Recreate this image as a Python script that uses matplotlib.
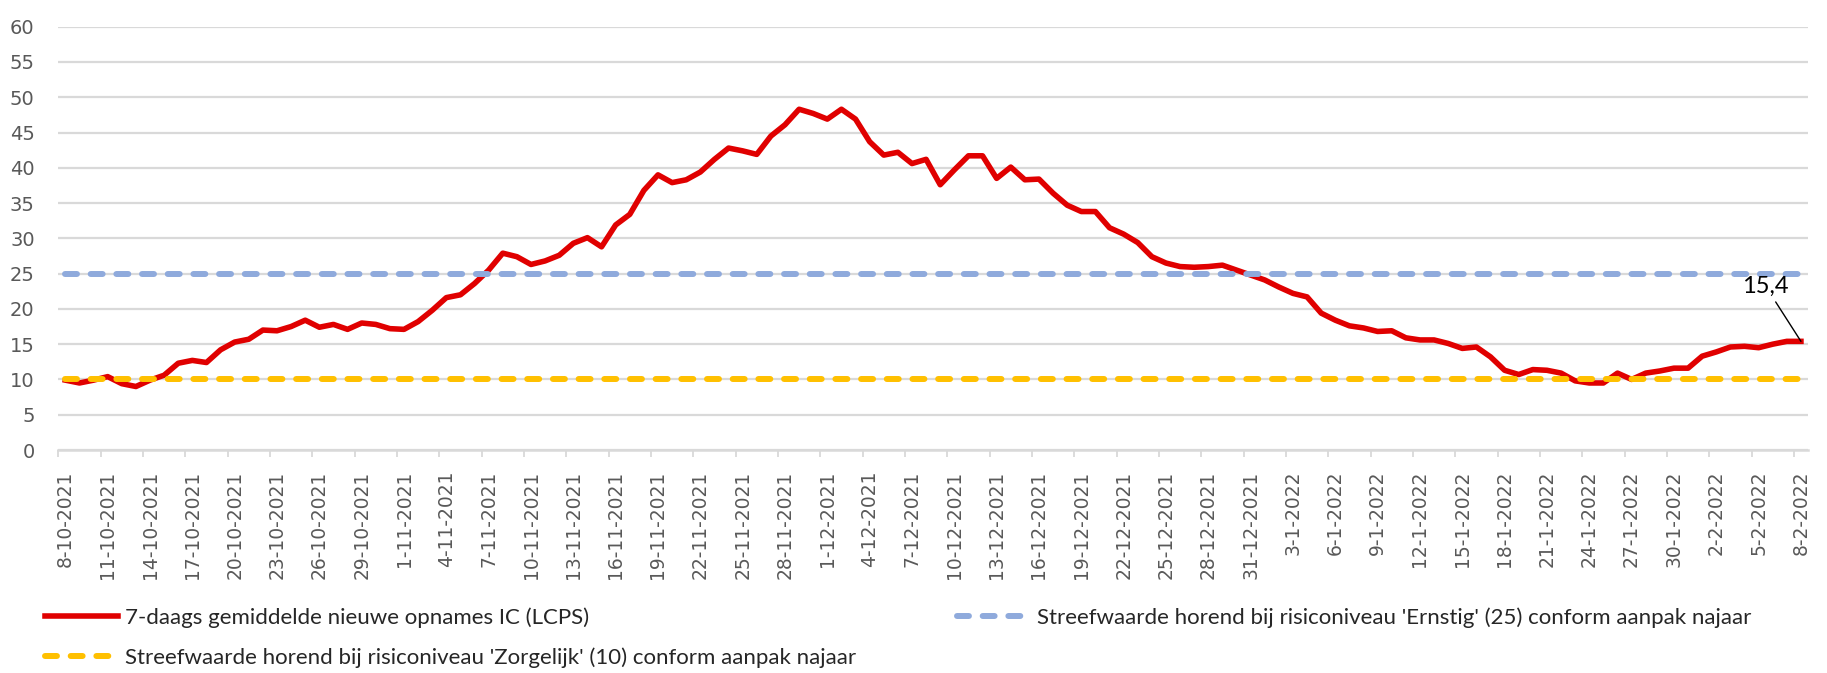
import matplotlib
matplotlib.use("Agg")
import matplotlib.pyplot as plt
import pandas as pd
import numpy as np

# ---- data ----
start_date = "2021-10-08"
n_days = 124
ic_admissions = [
    9.9, 9.5, 9.9, 10.4, 9.4, 9.0, 9.9, 10.6, 12.3, 12.7,
    12.4, 14.2, 15.3, 15.7, 17.0, 16.9, 17.5, 18.4, 17.4, 17.8,
    17.1, 18.0, 17.8, 17.2, 17.1, 18.2, 19.8, 21.6, 22.0, 23.6,
    25.5, 27.9, 27.4, 26.3, 26.8, 27.6, 29.3, 30.1, 28.8, 31.9,
    33.4, 36.8, 39.0, 37.9, 38.3, 39.4, 41.2, 42.8, 42.4, 41.9,
    44.5, 46.1, 48.3, 47.7, 46.9, 48.3, 46.9, 43.7, 41.8, 42.2,
    40.6, 41.2, 37.6, 39.7, 41.7, 41.7, 38.5, 40.1, 38.3, 38.4,
    36.4, 34.7, 33.8, 33.8, 31.5, 30.6, 29.4, 27.4, 26.5, 26.0,
    25.9, 26.0, 26.2, 25.5, 24.8, 24.1, 23.1, 22.2, 21.7, 19.4,
    18.4, 17.6, 17.3, 16.8, 16.9, 15.9, 15.6, 15.6, 15.1, 14.4,
    14.6, 13.2, 11.3, 10.7, 11.4, 11.3, 10.9, 9.8, 9.5, 9.5,
    10.9, 10.0, 10.9, 11.2, 11.6, 11.6, 13.3, 13.9, 14.6, 14.7,
    14.5, 15.0, 15.4, 15.4,
]
target_ernstig = 25
target_zorgelijk = 10
last_label = "15,4"
label_red = "7-daags gemiddelde nieuwe opnames IC (LCPS)"
label_blue = "Streefwaarde horend bij risiconiveau 'Ernstig' (25) conform aanpak najaar"
label_yellow = "Streefwaarde horend bij risiconiveau 'Zorgelijk' (10) conform aanpak najaar"
y_ticks = list(range(0, 61, 5))

dates = pd.date_range(start_date, periods=n_days, freq="D")
categories = [f"{d.day}-{d.month}-{d.year}" for d in dates]

# ---- figure ----
fig = plt.figure(figsize=(18.27, 6.73), dpi=100)
W, H = 1827, 673
ax = fig.add_axes([58.3 / W, 1 - 450 / H, (1808 - 58.3) / W, (450 - 26.7) / H])

x = np.arange(n_days)
red = "#E00000"
blue = "#8FAADC"
yellow = "#FFC000"
grid = "#D9D9D9"
txt = "#595959"

l_red, = ax.plot(x, ic_admissions, color=red, lw=4.0, solid_joinstyle="round",
                 zorder=3, label=label_red)
l_blue, = ax.plot(x, [target_ernstig] * n_days, color=blue, lw=4.3,
                  dashes=(2.0, 2.3), dash_capstyle="round", zorder=4, label=label_blue)
l_yel, = ax.plot(x, [target_zorgelijk] * n_days, color=yellow, lw=4.3,
                 dashes=(2.0, 2.3), dash_capstyle="round", zorder=5, label=label_yellow)

ax.set_xlim(-0.5, n_days - 0.5)
ax.set_ylim(0, 60)
ax.set_yticks(y_ticks)
ax.yaxis.grid(True, color=grid, lw=1.6, zorder=0)
ax.set_axisbelow(True)
for s in ["top", "right", "left"]:
    ax.spines[s].set_visible(False)
ax.spines["bottom"].set_color(grid)
ax.spines["bottom"].set_linewidth(1.8)

ax.tick_params(axis="y", length=0, pad=17, labelsize=14, labelcolor=txt)
idx = list(range(0, n_days, 3))
ax.set_xticks(idx)
ax.set_xticklabels([categories[i] for i in idx], rotation=90, fontsize=13.5, color=txt)
ax.tick_params(axis="x", which="major", length=0, pad=15)
ax.set_xticks([i - 0.5 for i in idx], minor=True)
ax.tick_params(axis="x", which="minor", length=5, width=1.3, color=grid)

for lab in ax.get_yticklabels() + ax.get_xticklabels():
    lab.set_fontfamily("DejaVu Sans")

# annotation of last value
ax.annotate(last_label, xy=(x[-1], ic_admissions[-1]), xytext=(120.5, 23.2),
            ha="center", va="center", fontsize=17, family="Lato", color="black",
            arrowprops=dict(arrowstyle="-", color="black", lw=1.0, shrinkA=2, shrinkB=0),
            zorder=6)

# legends
leg_kw = dict(frameon=False, prop={"family": "Lato", "size": 16},
              handlelength=3.3, handletextpad=0.3, labelspacing=0.87,
              borderpad=0, borderaxespad=0)
leg1 = fig.legend([l_red, l_yel], [label_red, label_yellow], loc="upper left",
                  bbox_to_anchor=(45 / W, 1 - 607 / H), **leg_kw)
leg2 = fig.legend([l_blue], [label_blue], loc="upper left",
                  bbox_to_anchor=(957 / W, 1 - 607 / H), **leg_kw)
for leg in (leg1, leg2):
    for t in leg.get_texts():
        t.set_color("#262626")

fig.savefig("out.png", dpi=100)
